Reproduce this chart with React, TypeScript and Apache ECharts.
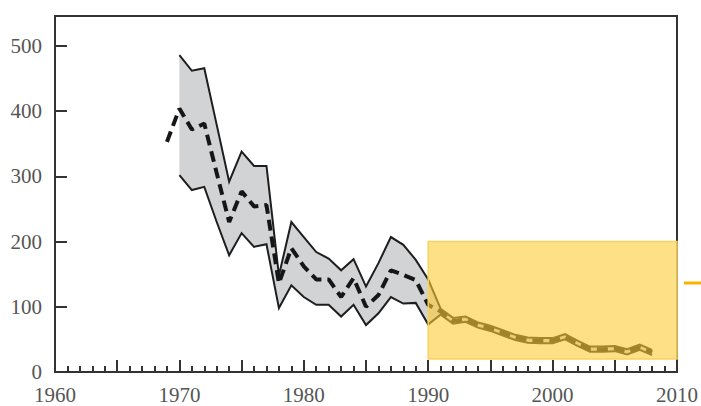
import React, { useEffect, useRef } from "react";
import * as echarts from "echarts";

// Years for the uncertainty band and for the median (dashed) line
const bandYears = [
  1970, 1971, 1972, 1973, 1974, 1975, 1976, 1977, 1978, 1979,
  1980, 1981, 1982, 1983, 1984, 1985, 1986, 1987, 1988, 1989,
  1990, 1991, 1992, 1993, 1994, 1995, 1996, 1997, 1998, 1999,
  2000, 2001, 2002, 2003, 2004, 2005, 2006, 2007, 2008,
];
const bandUpper = [
  486, 462, 466, 379, 292, 338, 316, 316, 148, 230,
  207, 184, 174, 156, 173, 131, 167, 207, 195, 172,
  142, 97, 83, 85, 76, 71, 64, 57, 53, 52,
  52, 58, 48, 39, 39, 40, 35, 42, 34,
];
const bandLower = [
  302, 279, 284, 230, 179, 213, 192, 196, 98, 133,
  115, 103, 103, 85, 103, 72, 90, 115, 105, 106,
  73, 88, 74, 77, 68, 63, 56, 49, 45, 44,
  44, 50, 40, 31, 31, 32, 27, 34, 26,
];
const medianYears = [
  1969, 1970, 1971, 1972, 1973, 1974, 1975, 1976, 1977, 1978, 1979,
  1980, 1981, 1982, 1983, 1984, 1985, 1986, 1987, 1988, 1989,
  1990, 1991, 1992, 1993, 1994, 1995, 1996, 1997, 1998, 1999,
  2000, 2001, 2002, 2003, 2004, 2005, 2006, 2007, 2008,
];
const medianValues = [
  353, 404, 372, 381, 305, 230, 277, 254, 256, 136, 190,
  162, 142, 142, 115, 144, 100, 118, 156, 149, 141,
  103, 93, 78, 81, 72, 67, 60, 53, 49, 48,
  48, 54, 44, 35, 35, 36, 31, 38, 30,
];
// Highlighted window (years and value range)
const highlightBox = [1990, 20, 2010, 200];

const xTickLabels = [1960, 1970, 1980, 1990, 2000, 2010];
const yTickLabels = [0, 100, 200, 300, 400, 500];

export default function App() {
  const ref = useRef<HTMLDivElement>(null);

  useEffect(() => {
    if (!ref.current) return;
    const chart = echarts.init(ref.current, null, { renderer: "svg" });

    const bandData = bandYears.map((y, i) => [y, bandUpper[i], bandLower[i]]);
    const font = "Liberation Serif";

    chart.setOption({
      animation: false,
      backgroundColor: "#ffffff",
      grid: {
        left: 55,
        top: 16,
        width: 628,
        height: 356,
        show: true,
        borderColor: "#333",
        borderWidth: 2,
        backgroundColor: "transparent",
      },
      xAxis: {
        type: "value",
        min: 1960,
        max: 2010,
        interval: 5,
        axisLine: { show: true, lineStyle: { color: "#333", width: 2 } },
        axisTick: { show: true, inside: true, length: 12, lineStyle: { color: "#333", width: 2 } },
        minorTick: { show: true, splitNumber: 5, length: 6, lineStyle: { color: "#333", width: 2 } },
        splitLine: { show: false },
        axisLabel: {
          margin: 12,
          fontFamily: font,
          fontSize: 21,
          color: "#555",
          formatter: (v: number) => (xTickLabels.includes(v) ? String(v) : ""),
        },
      },
      yAxis: {
        type: "value",
        min: 0,
        max: 546,
        interval: 100,
        axisLine: { show: true, lineStyle: { color: "#333", width: 2 } },
        axisTick: { show: true, inside: true, length: 12, lineStyle: { color: "#333", width: 2 } },
        splitLine: { show: false },
        axisLabel: {
          margin: 13,
          fontFamily: font,
          fontSize: 21,
          color: "#555",
          formatter: (v: number) => (yTickLabels.includes(v) ? String(v) : ""),
        },
      },
      series: [
        {
          type: "custom",
          z: 1,
          silent: true,
          data: [0],
          renderItem: (_params: any, api: any) => {
            const up = bandData.map((d) => api.coord([d[0], d[1]]));
            const lo = bandData.map((d) => api.coord([d[0], d[2]]));
            const poly = up.concat(lo.slice().reverse());
            return {
              type: "group",
              children: [
                { type: "polygon", shape: { points: poly }, style: { fill: "#d2d3d5", stroke: "none" } },
                { type: "polyline", shape: { points: up }, style: { stroke: "#1e1e1e", lineWidth: 2, fill: "none", lineJoin: "miter" } },
                { type: "polyline", shape: { points: lo }, style: { stroke: "#1e1e1e", lineWidth: 2, fill: "none", lineJoin: "miter" } },
              ],
            };
          },
        },
        {
          type: "line",
          z: 3,
          data: medianYears.map((y, i) => [y, medianValues[i]]),
          showSymbol: false,
          symbol: "none",
          lineStyle: { color: "#161616", width: 4, type: [11, 6] },
        },
        {
          type: "custom",
          z: 10,
          silent: true,
          data: [highlightBox],
          encode: { x: [0, 2], y: [1, 3] },
          renderItem: (_params: any, api: any) => {
            const p0 = api.coord([api.value(0), api.value(3)]);
            const p1 = api.coord([api.value(2), api.value(1)]);
            return {
              type: "rect",
              shape: { x: p0[0], y: p0[1], width: p1[0] - p0[0], height: p1[1] - p0[1] },
              style: { fill: "rgba(253, 203, 55, 0.6)", stroke: "#f8d260", lineWidth: 1.5 },
            };
          },
        },
      ],
      graphic: [
        {
          type: "line",
          shape: { x1: 684, y1: 283, x2: 701, y2: 283 },
          style: { stroke: "#f7b500", lineWidth: 3 },
        },
      ],
    });

    return () => chart.dispose();
  }, []);

  return (
    <div
      ref={ref}
      style={{ position: "fixed", left: 0, top: 0, width: 701, height: 406, background: "#fff" }}
    />
  );
}
